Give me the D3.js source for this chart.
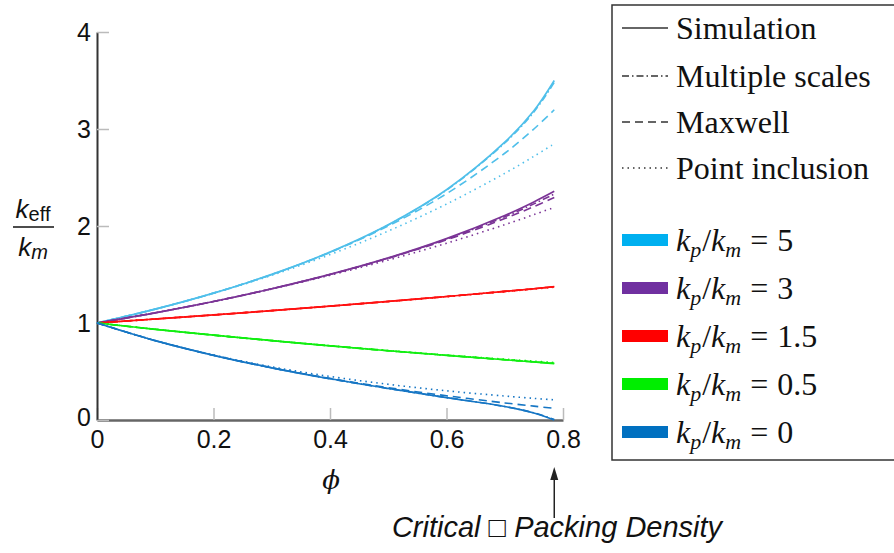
<!DOCTYPE html>
<html>
<head>
    <meta charset="utf-8">
    <title>Effective conductivity</title>
    <script src="https://d3js.org/d3.v7.min.js"></script>
    <style>
        body { margin: 0; padding: 0; background: #fff; }
    </style>
</head>
<body>
    <div id="chart"></div>

    <script>
// packing fraction samples (last one ~ critical packing, pi/4)
const phi = [0, 0.1, 0.2, 0.3, 0.4, 0.5, 0.6, 0.7, 0.75, 0.785];

// kp/km = 5
const sim5   = [1, 1.143, 1.308, 1.501, 1.731, 2.013, 2.374, 2.864, 3.188, 3.50];
const multi5 = [1, 1.143, 1.308, 1.500, 1.730, 2.011, 2.370, 2.856, 3.175, 3.48];
const maxw5  = [1, 1.143, 1.308, 1.500, 1.727, 2.000, 2.333, 2.750, 3.000, 3.198];
const point5 = [1, 1.143, 1.306, 1.492, 1.705, 1.948, 2.226, 2.543, 2.718, 2.849];

// kp/km = 3
const sim3   = [1, 1.105, 1.222, 1.353, 1.501, 1.671, 1.870, 2.108, 2.248, 2.357];
const multi3 = [1, 1.105, 1.222, 1.353, 1.500, 1.669, 1.865, 2.095, 2.228, 2.330];
const maxw3  = [1, 1.105, 1.222, 1.353, 1.500, 1.667, 1.857, 2.077, 2.200, 2.293];
const point3 = [1, 1.105, 1.221, 1.350, 1.492, 1.649, 1.822, 2.014, 2.117, 2.192];

// kp/km = 1.5
const sim15   = [1, 1.041, 1.083, 1.128, 1.174, 1.222, 1.273, 1.326, 1.353, 1.376];
const multi15 = [1, 1.041, 1.083, 1.128, 1.174, 1.222, 1.273, 1.326, 1.353, 1.375];
const maxw15  = [1, 1.041, 1.083, 1.128, 1.174, 1.222, 1.273, 1.326, 1.353, 1.373];
const point15 = [1, 1.041, 1.083, 1.127, 1.174, 1.221, 1.271, 1.323, 1.350, 1.369];

// kp/km = 0.5
const sim05   = [1, 0.935, 0.875, 0.818, 0.765, 0.714, 0.667, 0.621, 0.598, 0.582];
const multi05 = [1, 0.935, 0.875, 0.818, 0.765, 0.714, 0.667, 0.621, 0.599, 0.583];
const maxw05  = [1, 0.935, 0.875, 0.818, 0.765, 0.714, 0.667, 0.622, 0.600, 0.585];
const point05 = [1, 0.936, 0.875, 0.819, 0.766, 0.717, 0.670, 0.627, 0.607, 0.592];

// kp/km = 0
const sim0   = [1, 0.818, 0.667, 0.538, 0.425, 0.325, 0.231, 0.139, 0.072, 0.0];
const multi0 = [1, 0.818, 0.667, 0.538, 0.425, 0.325, 0.231, 0.139, 0.074, 0.005];
const maxw0  = [1, 0.818, 0.667, 0.538, 0.429, 0.333, 0.250, 0.176, 0.143, 0.120];
const point0 = [1, 0.819, 0.670, 0.549, 0.449, 0.368, 0.301, 0.247, 0.223, 0.208];

const ratioLabels = ["5", "3", "1.5", "0.5", "0"];
const swatchColors = ["#00b0f0", "#7030a0", "#ff0000", "#00ee00", "#0070c0"];
const lineColors = ["#4fbfea", "#7b3496", "#ff1010", "#10ee10", "#1676c4"];

const modelNames = ["Simulation", "Multiple scales", "Maxwell", "Point inclusion"];
const modelDash = [null, "7,3,1.5,3", "8,5", "1.5,4"];

const groups = [
    [sim5, multi5, maxw5, point5],
    [sim3, multi3, maxw3, point3],
    [sim15, multi15, maxw15, point15],
    [sim05, multi05, maxw05, point05],
    [sim0, multi0, maxw0, point0]
];

const xTicks = [0, 0.2, 0.4, 0.6, 0.8];
const yTicks = [0, 1, 2, 3, 4];

const width = 894;
const height = 553;

const svg = d3.select("#chart")
  .append("svg")
    .attr("width", width)
    .attr("height", height);

const x = d3.scaleLinear().domain([0, 0.8]).range([97, 563]);
const y = d3.scaleLinear().domain([0, 4]).range([420, 32]);

// axes
const xAxis = svg.append("g")
    .attr("transform", "translate(0,420)")
    .call(d3.axisBottom(x).tickValues(xTicks).tickFormat(d3.format("")).tickSizeInner(-12).tickSizeOuter(0).tickPadding(10));
xAxis.select(".domain").attr("stroke", "#666").attr("stroke-width", 2.5);
xAxis.selectAll(".tick line").attr("stroke", "#bbb").attr("stroke-width", 1.5);
xAxis.selectAll(".tick text")
    .attr("font-family", "Liberation Sans, Arial, sans-serif")
    .attr("font-size", 25)
    .attr("fill", "#111");

const yAxis = svg.append("g")
    .attr("transform", "translate(97,0)")
    .call(d3.axisLeft(y).tickValues(yTicks).tickFormat(d3.format("d")).tickSizeInner(-12).tickSizeOuter(0).tickPadding(6));
yAxis.select(".domain").attr("stroke", "#333").attr("stroke-width", 2);
yAxis.selectAll(".tick line").attr("stroke", "#bbb").attr("stroke-width", 1.5);
yAxis.selectAll(".tick text")
    .attr("font-family", "Liberation Sans, Arial, sans-serif")
    .attr("font-size", 25)
    .attr("fill", "#111");
yAxis.selectAll(".tick").filter(d => d === 0).select("text").attr("dy", "0.2em");

// curves
const line = d3.line()
    .x((d, i) => x(phi[i]))
    .y(d => y(d))
    .curve(d3.curveCatmullRom.alpha(0.5));

groups.forEach((models, g) => {
    // draw the models first, simulation on top
    [3, 2, 1, 0].forEach(m => {
        svg.append("path")
            .datum(models[m])
            .attr("d", line)
            .attr("fill", "none")
            .attr("stroke", lineColors[g])
            .attr("stroke-width", m === 0 ? 1.7 : 1.6)
            .attr("stroke-dasharray", modelDash[m]);
    });
});

// y label: k_eff / k_m
const ylab = svg.append("g").attr("font-family", "Liberation Sans, Arial, sans-serif").attr("fill", "#111");
const num = ylab.append("text").attr("x", 33).attr("y", 218).attr("text-anchor", "middle").attr("font-size", 26);
num.append("tspan").attr("font-style", "italic").text("k");
num.append("tspan").attr("dy", 3).attr("font-size", 20).text("eff");
ylab.append("line")
    .attr("x1", 13).attr("x2", 54)
    .attr("y1", 227).attr("y2", 227)
    .attr("stroke", "#111").attr("stroke-width", 1.5);
const den = ylab.append("text").attr("x", 33).attr("y", 256).attr("text-anchor", "middle").attr("font-size", 26);
den.append("tspan").attr("font-style", "italic").text("k");
den.append("tspan").attr("dy", 3).attr("font-size", 20).attr("font-style", "italic").text("m");

// x label
svg.append("text")
    .attr("x", 331).attr("y", 489)
    .attr("text-anchor", "middle")
    .attr("font-family", "DejaVu Serif, serif")
    .attr("font-style", "italic")
    .attr("font-size", 26)
    .attr("fill", "#111")
    .text("\u03D5");

// annotation arrow
const arrowX = x(0.785);
svg.append("line")
    .attr("x1", arrowX).attr("x2", arrowX)
    .attr("y1", 518).attr("y2", 476)
    .attr("stroke", "#222").attr("stroke-width", 1.5);
svg.append("path")
    .attr("d", `M${arrowX},467 L${arrowX - 4},480 L${arrowX + 4},480 Z`)
    .attr("fill", "#222");
svg.append("text")
    .attr("x", 557).attr("y", 537)
    .attr("text-anchor", "middle")
    .attr("font-family", "Liberation Sans, Arial, sans-serif")
    .attr("font-style", "italic")
    .attr("font-size", 29)
    .attr("fill", "#111")
    .text("Critical \u25A1 Packing Density");

// legend
const legend = svg.append("g");
legend.append("rect")
    .attr("x", 612).attr("y", 5)
    .attr("width", 300).attr("height", 455)
    .attr("fill", "#fff")
    .attr("stroke", "#333")
    .attr("stroke-width", 1.5);

const rowY = [28, 76, 122, 168];
modelNames.forEach((name, i) => {
    legend.append("line")
        .attr("x1", 622).attr("x2", 668)
        .attr("y1", rowY[i]).attr("y2", rowY[i])
        .attr("stroke", "#333")
        .attr("stroke-width", 1.3)
        .attr("stroke-dasharray", modelDash[i]);
    legend.append("text")
        .attr("x", 676).attr("y", rowY[i] + 11)
        .attr("font-family", "Liberation Serif, Times New Roman, serif")
        .attr("font-size", 32)
        .attr("fill", "#111")
        .text(name);
});

const ratioY = [240, 288, 336, 384, 432];
ratioLabels.forEach((lab, i) => {
    legend.append("rect")
        .attr("x", 622).attr("y", ratioY[i] - 6)
        .attr("width", 46).attr("height", 12)
        .attr("fill", swatchColors[i]);
    const t = legend.append("text")
        .attr("x", 676).attr("y", ratioY[i] + 11)
        .attr("font-family", "Liberation Serif, Times New Roman, serif")
        .attr("font-size", 32)
        .attr("fill", "#111");
    t.append("tspan").attr("font-style", "italic").text("k");
    t.append("tspan").attr("font-style", "italic").attr("font-size", 22).attr("dy", 6).text("p");
    t.append("tspan").attr("dy", -6).attr("dx", 1).text("/");
    t.append("tspan").attr("font-style", "italic").text("k");
    t.append("tspan").attr("font-style", "italic").attr("font-size", 22).attr("dy", 6).text("m");
    t.append("tspan").attr("dy", -6).attr("dx", 9).text("=");
    t.append("tspan").attr("dx", 9).text(lab);
});
    </script>
</body>
</html>
